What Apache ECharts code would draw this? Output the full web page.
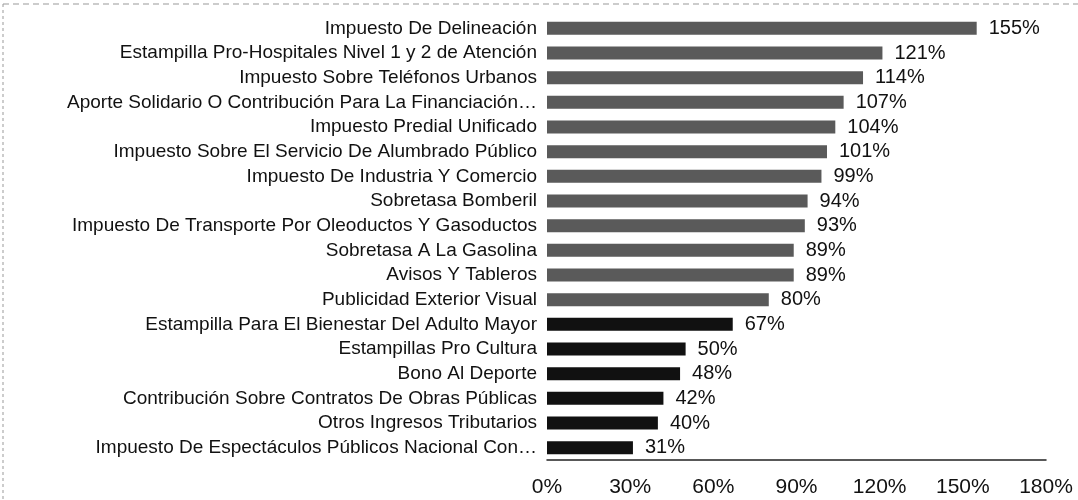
<!DOCTYPE html>
<html><head><meta charset="utf-8">
<script src="https://cdn.jsdelivr.net/npm/echarts@6/dist/echarts.min.js"></script>
<style>html,body{margin:0;padding:0;background:#fff}#c{width:1078px;height:500px}</style>
</head><body><div id="c"></div>
<script>
const categories = [
  "Impuesto De Delineación",
  "Estampilla Pro-Hospitales Nivel 1 y 2 de Atención",
  "Impuesto Sobre Teléfonos Urbanos",
  "Aporte Solidario O Contribución Para La Financiación…",
  "Impuesto Predial Unificado",
  "Impuesto Sobre El Servicio De Alumbrado Público",
  "Impuesto De Industria Y Comercio",
  "Sobretasa Bomberil",
  "Impuesto De Transporte Por Oleoductos Y Gasoductos",
  "Sobretasa A La Gasolina",
  "Avisos Y Tableros",
  "Publicidad Exterior Visual",
  "Estampilla Para El Bienestar Del Adulto Mayor",
  "Estampillas Pro Cultura",
  "Bono Al Deporte",
  "Contribución Sobre Contratos De Obras Públicas",
  "Otros Ingresos Tributarios",
  "Impuesto De Espectáculos Públicos Nacional Con…"
];
const values = [155, 121, 114, 107, 104, 101, 99, 94, 93, 89, 89, 80, 67, 50, 48, 42, 40, 31];
const tickLabels = ["0%", "30%", "60%", "90%", "120%", "150%", "180%"];

const chart = echarts.init(document.getElementById('c'), null, {renderer: 'canvas'});
chart.setOption({
  animation: false,
  backgroundColor: '#fff',
  grid: {left: 547, right: 32, top: 16, bottom: 40, containLabel: false},
  xAxis: {
    type: 'value', min: 0, max: 180, interval: 30,
    axisLine: {show: true, lineStyle: {color: '#222', width: 1.5}},
    axisTick: {show: false},
    splitLine: {show: false},
    axisLabel: {
      formatter: v => tickLabels[Math.round(v / 30)],
      fontFamily: 'Liberation Sans, Arial', fontSize: 21, color: '#111', margin: 17
    }
  },
  yAxis: {
    type: 'category', inverse: true, data: categories,
    axisLine: {show: false}, axisTick: {show: false},
    axisLabel: {interval: 0, fontFamily: 'Liberation Sans, Arial', fontSize: 19, lineHeight: 20, color: '#111', margin: 10}
  },
  series: [{
    type: 'bar',
    data: values.map(v => ({value: v, itemStyle: {color: v >= 80 ? '#5a5a5a' : '#111'}})),
    barWidth: 13,
    label: {
      show: true, position: 'right', distance: 12,
      formatter: p => p.value + '%',
      fontFamily: 'Liberation Sans, Arial', fontSize: 20, color: '#111'
    }
  }],
  graphic: [
    {type: 'line', shape: {x1: 3, y1: 4, x2: 1078, y2: 4}, style: {stroke: '#999', lineDash: [6, 4], lineWidth: 1}},
    {type: 'line', shape: {x1: 3, y1: 4, x2: 3, y2: 500}, style: {stroke: '#999', lineDash: [3, 3], lineWidth: 1}}
  ]
});
</script></body></html>
